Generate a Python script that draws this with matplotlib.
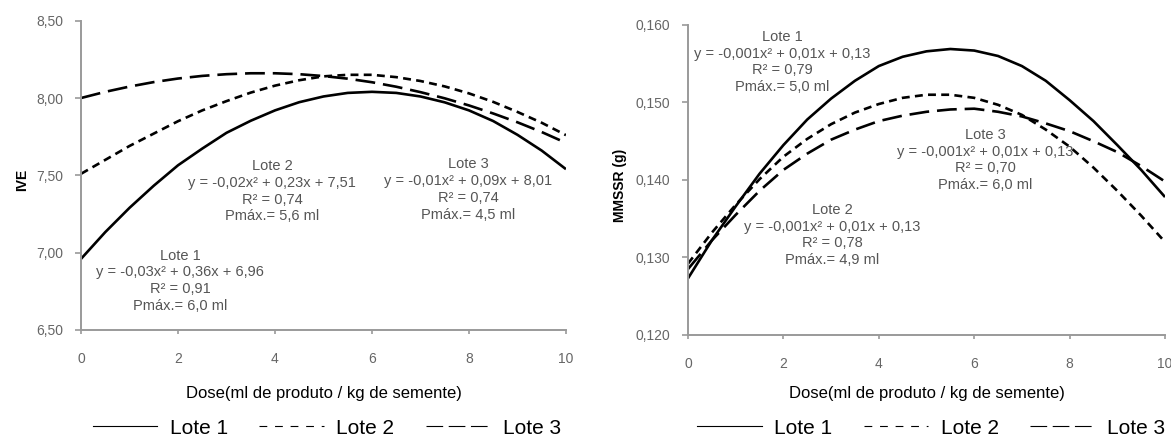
import matplotlib
matplotlib.use('Agg')
import matplotlib.pyplot as plt
from matplotlib.lines import Line2D

plt.rcParams['font.family'] = ['Liberation Sans', 'DejaVu Sans']

# dose (ml de produto / kg de semente)
dose = [0, 0.5, 1, 1.5, 2, 2.5, 3, 3.5, 4, 4.5, 5,
        5.5, 6, 6.5, 7, 7.5, 8, 8.5, 9, 9.5, 10]

# IVE per lote
ive_lote1 = [6.960, 7.133, 7.290, 7.433, 7.565, 7.673, 7.775, 7.853, 7.920, 7.973, 8.010,
             8.033, 8.040, 8.033, 8.010, 7.972, 7.920, 7.851, 7.762, 7.660, 7.540]
ive_lote2 = [7.510, 7.600, 7.690, 7.770, 7.850, 7.920, 7.980, 8.035, 8.080, 8.115, 8.140,
             8.150, 8.150, 8.135, 8.110, 8.075, 8.030, 7.975, 7.910, 7.840, 7.760]
ive_lote3 = [8.000, 8.040, 8.074, 8.103, 8.126, 8.143, 8.154, 8.160, 8.160, 8.154, 8.142,
             8.125, 8.102, 8.073, 8.038, 7.998, 7.952, 7.900, 7.843, 7.780, 7.710]

# MMSSR (g) per lote
mmssr_lote1 = [0.1273, 0.1322, 0.1366, 0.1408, 0.1445, 0.1478, 0.1505, 0.1528, 0.1547, 0.1559, 0.1566,
               0.1569, 0.1567, 0.1560, 0.1547, 0.1528, 0.1503, 0.1476, 0.1445, 0.1413, 0.1378]
mmssr_lote2 = [0.1292, 0.1332, 0.1368, 0.1401, 0.1430, 0.1453, 0.1472, 0.1487, 0.1498, 0.1506, 0.1510,
               0.1510, 0.1506, 0.1497, 0.1484, 0.1465, 0.1443, 0.1416, 0.1386, 0.1354, 0.1320]
mmssr_lote3 = [0.1285, 0.1322, 0.1355, 0.1386, 0.1413, 0.1434, 0.1452, 0.1465, 0.1476, 0.1483, 0.1488,
               0.1491, 0.1492, 0.1488, 0.1482, 0.1473, 0.1463, 0.1450, 0.1436, 0.1418, 0.1398]

ive_ticks = [6.5, 7.0, 7.5, 8.0, 8.5]
ive_ticklabels = ['6,50', '7,00', '7,50', '8,00', '8,50']
mmssr_ticks = [0.12, 0.13, 0.14, 0.15, 0.16]
mmssr_ticklabels = ['0,120', '0,130', '0,140', '0,150', '0,160']
dose_ticks = [0, 2, 4, 6, 8, 10]

ive_notes = [
    'Lote 1\ny = -0,03x² + 0,36x + 6,96\nR² = 0,91\nPmáx.= 6,0 ml',
    'Lote 2\ny = -0,02x² + 0,23x + 7,51\nR² = 0,74\nPmáx.= 5,6 ml',
    'Lote 3\ny = -0,01x² + 0,09x + 8,01\nR² = 0,74\nPmáx.= 4,5 ml',
]
mmssr_notes = [
    'Lote 1\ny = -0,001x² + 0,01x + 0,13\nR² = 0,79\nPmáx.= 5,0 ml',
    'Lote 2\ny = -0,001x² + 0,01x + 0,13\nR² = 0,78\nPmáx.= 4,9 ml',
    'Lote 3\ny = -0,001x² + 0,01x + 0,13\nR² = 0,70\nPmáx.= 6,0 ml',
]

xlabel = 'Dose(ml de produto / kg de semente)'
names = ['Lote 1', 'Lote 2', 'Lote 3']

fig = plt.figure(figsize=(11.71, 4.43), dpi=100)
ax1 = fig.add_axes([0.0692, 0.2551, 0.4141, 0.6982])
ax2 = fig.add_axes([0.5875, 0.2438, 0.4074, 0.6998])

LW = 1.9
short_dash = (3.0, 2.0)
long_dash = (7.5, 3.0)
grey = '#9a9a9a'
txt_grey = '#555555'


def style_axes(ax, yticks, yticklabels):
    ax.set_xlim(0, 10)
    ax.set_ylim(yticks[0], yticks[-1])
    ax.set_xticks(dose_ticks)
    ax.set_yticks(yticks)
    ax.set_yticklabels(yticklabels)
    for s in ['top', 'right']:
        ax.spines[s].set_visible(False)
    for s in ['left', 'bottom']:
        ax.spines[s].set_color(grey)
        ax.spines[s].set_linewidth(1.4)
    ax.tick_params(axis='y', direction='out', length=4, width=1.2, color=grey,
                   labelcolor='#666666', labelsize=10, pad=9)
    ax.tick_params(axis='x', direction='out', length=3, width=1.2, color=grey,
                   labelcolor='#666666', labelsize=10, pad=13)
    ax.set_xlabel(xlabel, fontsize=12, color='black')


def add_legend(ax, x, y):
    handles = [
        Line2D([], [], color='black', lw=0.8),
        Line2D([], [], color='black', lw=0.8, dashes=(7, 7)),
        Line2D([], [], color='black', lw=0.8, dashes=(15, 5)),
    ]
    ax.legend(handles, names, loc='center', bbox_to_anchor=(x, y), ncol=3,
              frameon=False, fontsize=15, handlelength=3.1, handletextpad=0.6,
              columnspacing=1.5)


# IVE
ax1.plot(dose, ive_lote1, color='black', lw=LW, solid_capstyle='butt')
ax1.plot(dose, ive_lote2, color='black', lw=LW, dashes=short_dash)
ax1.plot(dose, ive_lote3, color='black', lw=LW, dashes=long_dash)
style_axes(ax1, ive_ticks, ive_ticklabels)
ax1.set_ylabel('IVE', fontsize=10, fontweight='bold')
ax1.yaxis.set_label_coords(-0.107, 0.485)
ax1.xaxis.set_label_coords(0.5, -0.181)
for (tx, ty), note in zip([(2.04, 6.818), (3.94, 7.397), (7.98, 7.409)], ive_notes):
    ax1.text(tx, ty, note, ha='center', va='center', fontsize=10.5,
             color=txt_grey, linespacing=1.25)
add_legend(ax1, 0.507, -0.317)

# MMSSR
ax2.plot(dose, mmssr_lote1, color='black', lw=LW, solid_capstyle='butt')
ax2.plot(dose, mmssr_lote2, color='black', lw=LW, dashes=short_dash)
ax2.plot(dose, mmssr_lote3, color='black', lw=LW, dashes=long_dash)
style_axes(ax2, mmssr_ticks, mmssr_ticklabels)
ax2.set_ylabel('MMSSR (g)', fontsize=10, fontweight='bold')
ax2.yaxis.set_label_coords(-0.128, 0.484)
ax2.xaxis.set_label_coords(0.5, -0.166)
for (tx, ty), note in zip([(1.97, 0.15523), (3.02, 0.1329), (6.23, 0.14258)], mmssr_notes):
    ax2.text(tx, ty, note, ha='center', va='center', fontsize=10.5,
             color=txt_grey, linespacing=1.25)
add_legend(ax2, 0.51, -0.30)

fig.savefig('out.png', dpi=100)
